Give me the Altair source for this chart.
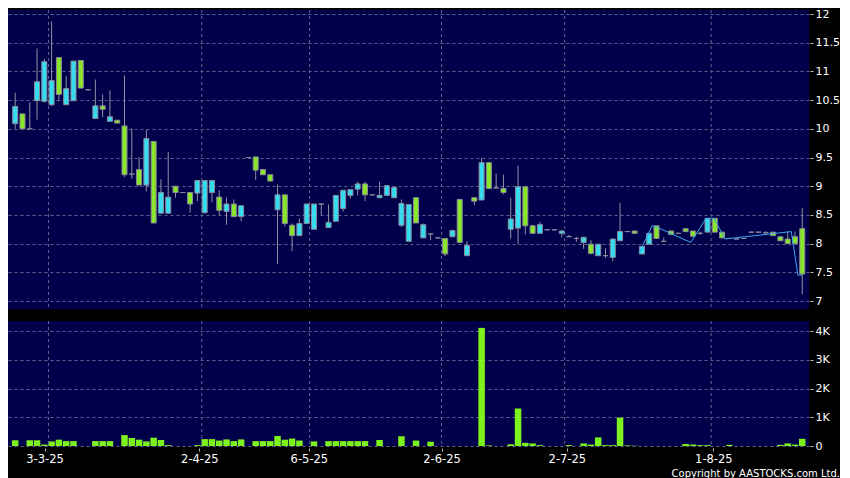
import json
import altair as alt
import pandas as pd

# ---------------- data ----------------
# candle index (trading-day position), open, close, high, low
opens = [10.09, 10.26, 10.00, 10.49, 10.48, 10.42, 11.24, 10.42, 10.49, 11.19,
         10.68, 10.18, 10.40, 10.13, 10.15, 10.05, 9.21, 9.29, 9.02, 9.78,
         8.53, 8.53, 9.00, 8.89, 8.89, 8.88, 8.54, 8.89, 8.81, 8.56,
         8.69, 8.47, 9.50, 9.51, 9.29, 9.20, 8.59, 8.85, 8.32, 8.14,
         8.35, 8.25, 8.69, 8.28, 8.39, 8.61, 8.84, 8.95, 9.04, 8.85,
         8.80, 8.84, 8.80, 8.32, 8.04, 8.80, 8.10, 8.17, 8.10, 8.09,
         8.12, 8.77, 7.79, 8.80, 8.76, 9.41, 8.97, 8.96, 8.25, 8.27,
         8.99, 8.31, 8.18, 8.24, 8.24, 8.18, 8.12, 8.09, 8.02, 7.99,
         7.79, 7.79, 7.76, 8.05, 8.21, 8.22, 7.82, 7.99, 8.31, 8.04,
         8.22, 8.18, 8.26, 8.22, 8.18, 8.20, 8.44, 8.20, 8.09, 8.08,
         8.09, 8.20, 8.20, 8.19, 8.20, 8.12, 8.08, 8.12, 8.26]
closes = [10.39, 10.00, 10.00, 10.82, 11.17, 10.84, 10.60, 10.70, 11.18, 10.71,
          10.68, 10.40, 10.34, 10.21, 10.10, 9.20, 9.21, 9.02, 9.83, 8.36,
          8.89, 8.81, 8.89, 8.89, 8.69, 9.10, 9.10, 9.10, 8.58, 8.69,
          8.47, 8.66, 9.50, 9.28, 9.20, 9.09, 8.85, 8.35, 8.14, 8.35,
          8.69, 8.69, 8.69, 8.37, 8.84, 8.93, 8.94, 9.04, 8.85, 8.85,
          8.84, 9.01, 8.98, 8.70, 8.68, 8.36, 8.33, 8.17, 8.10, 7.82,
          8.23, 8.02, 7.97, 8.74, 9.41, 8.96, 8.97, 8.89, 8.43, 8.99,
          8.31, 8.18, 8.33, 8.24, 8.24, 8.22, 8.12, 8.09, 8.11, 7.83,
          7.99, 7.79, 8.08, 8.21, 8.21, 8.18, 7.95, 8.18, 8.09, 8.04,
          8.16, 8.18, 8.21, 8.13, 8.18, 8.44, 8.20, 8.10, 8.09, 8.08,
          8.09, 8.20, 8.20, 8.19, 8.14, 8.05, 8.00, 8.00, 7.47]
highs = [10.63, 10.26, 10.46, 11.40, 11.22, 11.87, 11.24, 10.92, 11.18, 11.19,
         10.68, 10.86, 10.60, 10.67, 10.15, 10.93, 10.01, 9.51, 9.98, 9.78,
         9.12, 9.60, 9.00, 8.89, 8.89, 9.10, 9.10, 9.10, 8.93, 8.80,
         8.77, 8.66, 9.50, 9.51, 9.29, 9.20, 9.03, 8.85, 8.35, 8.44,
         8.69, 8.69, 8.69, 8.68, 8.84, 8.93, 8.94, 9.08, 9.08, 8.85,
         9.08, 9.01, 9.00, 8.77, 8.68, 8.80, 8.35, 8.17, 8.10, 8.09,
         8.23, 8.77, 8.04, 8.80, 9.49, 9.41, 9.22, 9.20, 8.80, 9.36,
         8.99, 8.33, 8.38, 8.24, 8.24, 8.24, 8.15, 8.12, 8.11, 8.06,
         7.99, 7.92, 8.08, 8.71, 8.21, 8.22, 7.95, 8.18, 8.31, 8.11,
         8.22, 8.18, 8.26, 8.22, 8.21, 8.44, 8.44, 8.20, 8.09, 8.08,
         8.09, 8.20, 8.20, 8.22, 8.20, 8.12, 8.21, 8.21, 8.62]
lows = [10.00, 10.00, 10.00, 10.16, 10.46, 10.40, 10.48, 10.42, 10.49, 10.71,
        10.68, 10.17, 10.20, 10.13, 10.10, 9.16, 9.13, 9.02, 8.91, 8.36,
        8.53, 8.53, 8.80, 8.89, 8.54, 8.74, 8.52, 8.72, 8.50, 8.33,
        8.47, 8.39, 9.50, 9.11, 9.20, 9.09, 7.65, 8.30, 7.87, 8.14,
        8.35, 8.25, 8.50, 8.28, 8.39, 8.56, 8.79, 8.84, 8.74, 8.85,
        8.80, 8.84, 8.80, 8.29, 8.04, 8.36, 8.10, 8.06, 8.10, 7.78,
        8.12, 8.02, 7.79, 8.67, 8.76, 8.96, 8.97, 8.86, 8.09, 7.99,
        8.16, 8.18, 8.18, 8.24, 8.24, 8.11, 8.12, 8.03, 7.91, 7.81,
        7.79, 7.75, 7.69, 8.05, 8.21, 8.18, 7.82, 7.99, 8.09, 8.04,
        8.16, 8.18, 8.21, 8.11, 8.15, 8.20, 8.20, 8.10, 8.09, 8.08,
        8.09, 8.20, 8.20, 8.15, 8.14, 8.05, 8.00, 8.00, 7.12]
# volume in thousands
vols = [0.20, 0.00, 0.20, 0.20, 0.05, 0.16, 0.22, 0.17, 0.17, 0.00,
        0.00, 0.17, 0.17, 0.17, 0.00, 0.38, 0.28, 0.22, 0.16, 0.29,
        0.21, 0.03, 0.00, 0.00, 0.00, 0.03, 0.24, 0.24, 0.19, 0.23,
        0.17, 0.23, 0.00, 0.17, 0.17, 0.17, 0.35, 0.22, 0.26, 0.19,
        0.00, 0.16, 0.00, 0.17, 0.17, 0.17, 0.17, 0.17, 0.17, 0.00,
        0.21, 0.00, 0.00, 0.34, 0.00, 0.19, 0.00, 0.15, 0.00, 0.00,
        0.00, 0.00, 0.00, 0.00, 4.12, 0.02, 0.00, 0.00, 0.06, 1.31,
        0.11, 0.09, 0.03, 0.00, 0.00, 0.00, 0.03, 0.00, 0.09, 0.05,
        0.30, 0.03, 0.03, 0.99, 0.02, 0.01, 0.00, 0.00, 0.00, 0.00,
        0.00, 0.00, 0.07, 0.05, 0.03, 0.03, 0.00, 0.00, 0.04, 0.00,
        0.00, 0.00, 0.00, 0.00, 0.00, 0.04, 0.09, 0.05, 0.25]

# thin blue close line over the last weeks
line_x = [85.6, 87.4, 88.0, 92.7, 94.8, 95.9, 97.4, 106.5, 107.4, 108.0]
line_y = [7.83, 8.31, 8.29, 8.02, 8.44, 8.44, 8.08, 8.21, 7.45, 7.45]

# date labels and their positions on the trading-day axis
tick_labels = ["3-3-25", "2-4-25", "6-5-25", "2-6-25", "2-7-25", "1-8-25"]
tick_pos = [4.03, 25.27, 40.3, 58.5, 75.7, 95.8]
grid_pos = [4.57, 25.6, 40.4, 58.5, 75.4, 95.5]

price_ticks = [7, 7.5, 8, 8.5, 9, 9.5, 10, 10.5, 11, 11.5, 12]
vol_ticks = [0, 1, 2, 3, 4]
copyright_text = "Copyright by AASTOCKS.com Ltd."

# ---------------- build ----------------
df = pd.DataFrame({"i": list(range(len(opens))), "open": opens, "close": closes,
                   "high": highs, "low": lows, "vol": vols})
df["dir"] = ["up" if c > o else ("down" if c < o else "flat") for o, c in zip(opens, closes)]
line_df = pd.DataFrame({"x": line_x, "y": line_y})
grid_df = pd.DataFrame({"g": grid_pos})
copy_df = pd.DataFrame({"t": [copyright_text]})

GRID = "#62628f"
NAVY = "#00004a"
CYAN = "#35dcef"
GREEN = "#8ae628"
FONT = "DejaVu Sans"
W = 801

xscale = alt.Scale(domain=[-0.3, 108.24], nice=False, zero=False)
pscale = alt.Scale(domain=[6.861, 12.07], nice=False, zero=False)
vscale = alt.Scale(domain=[0, 4.36], nice=False, zero=False)

yaxis_price = alt.Axis(orient="right", values=price_ticks, format="~g",
                       title=None, domain=False, tickSize=3, offset=1, labelPadding=2,
                       labelOverlap=False, labelFlush=False, labelSeparation=0,
                       labelFontSize=11,
                       grid=True, gridColor=GRID, gridDash=[3, 3], gridWidth=1)
yaxis_vol = alt.Axis(orient="right", values=vol_ticks,
                     labelExpr="datum.value == 0 ? '0' : datum.value + 'K'",
                     title=None, domain=False, tickSize=3, offset=1, labelPadding=2,
                     labelOverlap=False, labelFlush=False, labelFontSize=11,
                     grid=True, gridColor=GRID, gridDash=[3, 3], gridWidth=1)
label_expr = "{}[indexof({}, datum.value)]".format(json.dumps(tick_labels), json.dumps(tick_pos))
xaxis_bottom = alt.Axis(orient="bottom", values=tick_pos, labelExpr=label_expr, title=None,
                        domain=False, grid=False, tickSize=3, offset=2, labelPadding=2,
                        labelOverlap=False, labelFlush=False, labelFontSize=11.5)

# ---- price panel ----
vgrid_p = alt.Chart(grid_df).mark_rule(color=GRID, strokeDash=[3, 3], strokeWidth=1).encode(
    x=alt.X("g:Q", scale=xscale, axis=None))
wick = alt.Chart(df).mark_rule(color="#9090a4", strokeWidth=1).encode(
    x=alt.X("i:Q", scale=xscale, axis=None),
    y=alt.Y("low:Q", scale=pscale, axis=yaxis_price),
    y2="high:Q")
body = alt.Chart(df).mark_bar(size=5, stroke="#8a8a9c", strokeWidth=1).encode(
    x=alt.X("i:Q", scale=xscale, axis=None),
    y=alt.Y("open:Q", scale=pscale, axis=yaxis_price),
    y2="close:Q",
    color=alt.Color("dir:N", legend=None,
                    scale=alt.Scale(domain=["up", "down", "flat"], range=[CYAN, GREEN, "#8a8a9c"])))
cline = alt.Chart(line_df).mark_line(color="#3ea6ee", strokeWidth=1).encode(
    x=alt.X("x:Q", scale=xscale, axis=None),
    y=alt.Y("y:Q", scale=pscale, axis=yaxis_price))
price = alt.layer(wick, vgrid_p, body, cline).properties(width=W, height=299)

# ---- volume panel ----
vbars = alt.Chart(df).mark_bar(size=6.5, color="#7ef21c").encode(
    x=alt.X("i:Q", scale=xscale, axis=xaxis_bottom),
    y=alt.Y("vol:Q", scale=vscale, axis=yaxis_vol))
vgrid_v = alt.Chart(grid_df).mark_rule(color=GRID, strokeDash=[3, 3], strokeWidth=1).encode(
    x=alt.X("g:Q", scale=xscale, axis=xaxis_bottom))
ctext = alt.Chart(copy_df).mark_text(align="right", baseline="middle", color="#ffffff",
                                     fontSize=10, font=FONT).encode(
    x=alt.value(832), y=alt.value(153), text="t:N")
volume = alt.layer(vbars, vgrid_v, ctext).properties(width=W, height=125)

chart = alt.vconcat(price, volume, spacing=10).properties(
    background="#000000",
    padding={"left": 0, "top": 0, "right": 0, "bottom": 0},
).configure_view(
    fill=NAVY, stroke=None
).configure_axis(
    labelColor="#ffffff", labelFont=FONT, tickColor="#bbbbbb", labelOverlap=False
)

chart.save("out.html", embed_options={"renderer": "svg", "actions": False})
